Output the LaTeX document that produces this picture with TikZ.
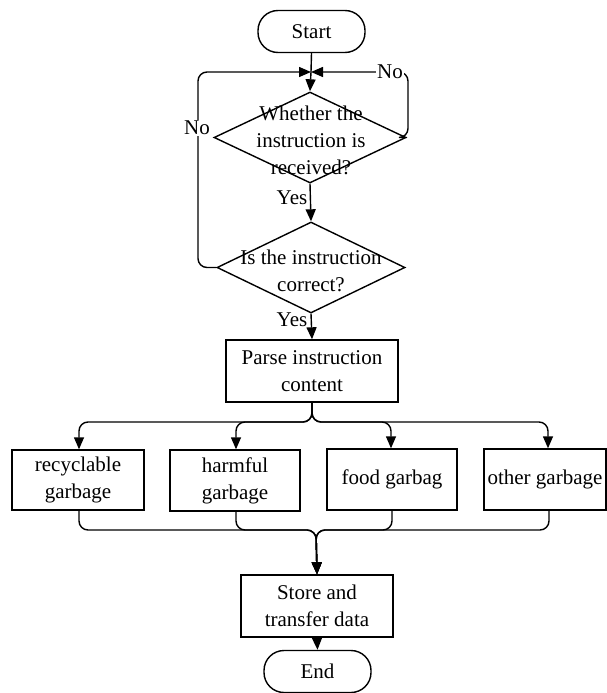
\documentclass[tikz,border=0pt]{standalone}
\usepackage{fontspec}
\setmainfont{Liberation Serif}
\usetikzlibrary{arrows.meta,shapes.geometric}
\begin{document}
\begin{tikzpicture}[x=1pt,y=-1pt,
  line width=1.4pt,
  tip/.style={-{Triangle[width=10pt,length=12pt]}},
  txt/.style={font=\fontsize{21pt}{27pt}\selectfont, align=center, inner sep=0pt},
  term/.style={draw, rectangle, rounded corners=20pt, minimum width=107pt, minimum height=42pt, inner sep=0pt, font=\fontsize{21pt}{27pt}\selectfont},
  box/.style={draw, rectangle, inner sep=0pt, align=center, font=\fontsize{21pt}{27pt}\selectfont},
  dia/.style={draw, diamond, inner sep=0pt},
  lbl/.style={fill=white, inner sep=1pt, font=\fontsize{21pt}{27pt}\selectfont},
  rc/.style={rounded corners=9pt}]
\useasboundingbox (0,0) rectangle (607,693);

\node[term] (start) at (311.5,31.5) {Start};
\coordinate (j) at (311,72);

\node[dia, minimum width=192pt, minimum height=91pt] (d1) at (310,137.5) {};
\node[txt] (t1) at (311,140) {Whether the\\instruction is\\received?};

\node[dia, minimum width=188pt, minimum height=91pt] (d2) at (311,267.5) {};
\node[txt] (t2) at (311,271) {Is the instruction\\correct?};

\node[box, minimum width=172pt, minimum height=62pt] (parse) at (312,371) {Parse instruction\\content};

\node[box, minimum width=132pt, minimum height=60pt] (b1) at (78,480) {recyclable\\garbage};
\node[box, minimum width=130pt, minimum height=61pt] (b2) at (235,480.5) {harmful\\garbage};
\node[box, minimum width=130pt, minimum height=61pt] (b3) at (392,479.5) {food garbag};
\node[box, minimum width=122pt, minimum height=61pt] (b4) at (545,479.5) {other garbage};

\node[box, minimum width=152pt, minimum height=62pt] (store) at (317,606) {Store and\\transfer data};
\node[term] (end) at (317.5,671.5) {End};

% top junction
\draw (start.south) -- (j);
\draw[tip] (j) -- (d1.north);
\draw[tip, rc] (d1.east) -- (408,137.5) -- (408,72) -- (j);
\draw[tip, rc] (d2.west) -- (198,267.5) -- (198,72) -- (j);
\node[lbl] (no1) at (390,72) {No};
\node[lbl] (no2) at (197,128) {No};

% yes arrows
\draw[tip] (d1.south) -- (d2.north);
\node[txt] (yes1) at (292,198) {Yes};
\draw[tip] (d2.south) -- (parse.north);
\node[txt] (yes2) at (292,320) {Yes};

% branches
\coordinate (br) at (312,422);
\draw[tip, rc] (parse.south) -- (br) -- (79,422) -- (b1.north -| 79,0);
\draw[tip, rc] (parse.south) -- (br) -- (236,422) -- (b2.north -| 236,0);
\draw[tip, rc] (parse.south) -- (br) -- (391,422) -- (b3.north -| 391,0);
\draw[tip, rc] (parse.south) -- (br) -- (548,422) -- (b4.north -| 548,0);

% merge
\coordinate (mg) at (316,530);
\draw[tip, rc] (b1.south -| 79,0) -- (79,530) -- (mg) -- (store.north);
\draw[tip, rc] (b2.south -| 236,0) -- (236,530) -- (mg) -- (store.north);
\draw[tip, rc] (b3.south -| 392,0) -- (392,530) -- (mg) -- (store.north);
\draw[tip, rc] (b4.south -| 549,0) -- (549,530) -- (mg) -- (store.north);

\draw[tip] (store.south) -- (end.north);
\end{tikzpicture}
\end{document}
